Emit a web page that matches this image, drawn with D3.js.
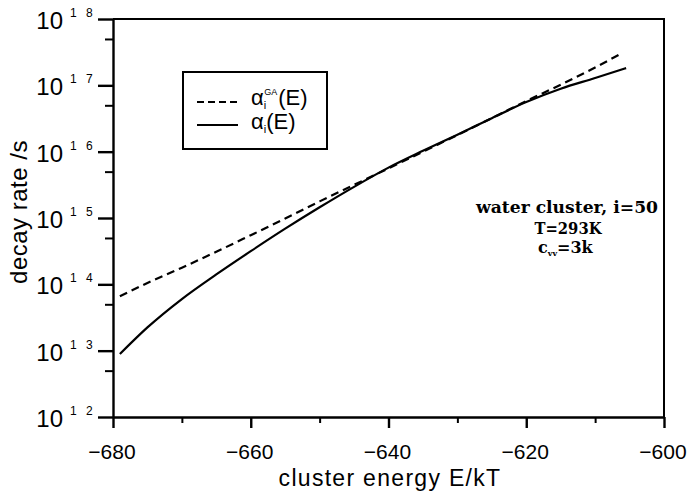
<!DOCTYPE html>
<html lang="en">
<head>
<meta charset="UTF-8">
<title>decay rate vs cluster energy</title>
<style>
  body { margin: 0; padding: 0; background: #fff; overflow: hidden; }
  svg { display: block; }
  text { fill: #000; }
</style>
</head>
<body>
<svg id="chart" width="688" height="493"></svg>
<script src="https://d3js.org/d3.v7.min.js"></script>
<script>
// cluster energy E/kT
const energyGA = [-679, -675, -670, -665, -660, -655, -650, -645, -640, -635, -630, -625, -620, -615, -610, -606];
// alpha_i^GA(E), decay rate /s (dashed)
const rateGA = [6.6e13, 1.05e14, 1.78e14, 3.1e14, 5.5e14, 9.8e14, 1.78e15, 3.16e15, 5.6e15, 1.0e16, 1.78e16, 3.2e16, 5.8e16, 1.02e17, 1.86e17, 3.1e17];

const energyExact = [-679, -675, -670, -665, -660, -655, -650, -645, -640, -635, -630, -625, -620, -615, -610, -605.5];
// alpha_i(E), decay rate /s (solid)
const rateExact = [8.9e12, 2.24e13, 6.0e13, 1.41e14, 3.16e14, 6.9e14, 1.45e15, 2.95e15, 5.75e15, 1.03e16, 1.8e16, 3.2e16, 5.6e16, 8.9e16, 1.29e17, 1.82e17];

const xTicks = [-680, -660, -640, -620, -600];
const xMinorTicks = [-670, -650, -630, -610];
const yExponents = [12, 13, 14, 15, 16, 17, 18];

const annotation = ["water cluster, i=50", "T=293K"];

// plot frame in page pixels
const plotLeft = 113, plotRight = 664, plotTop = 19, plotBottom = 417;

const svg = d3.select("#chart");

const x = d3.scaleLinear().domain([-680, -600]).range([plotLeft, plotRight]);
const y = d3.scaleLog().domain([1e12, 1e18]).range([plotBottom, plotTop]);

const sans = "'Liberation Sans', Arial, sans-serif";

const yMajor = yExponents.map(e => Math.pow(10, e));
const yMinor = yExponents.slice(0, -1).map(e => 5 * Math.pow(10, e));

// top/right frame
svg.append("path")
  .attr("d", `M${plotLeft},${plotTop}H${plotRight}V${plotBottom}`)
  .attr("fill", "none")
  .attr("stroke", "#000")
  .attr("stroke-width", 2);

// d3 axes for the ticks (labels drawn separately)
const yAxisMajor = svg.append("g")
  .attr("transform", `translate(${plotLeft},0)`)
  .call(d3.axisLeft(y).tickValues(yMajor).tickSize(15).tickSizeOuter(0).tickFormat(() => ""));
yAxisMajor.select(".domain").attr("stroke", "#000").attr("stroke-width", 2.4);
yAxisMajor.selectAll(".tick line").attr("stroke", "#000").attr("stroke-width", 2.4);

const yAxisMinor = svg.append("g")
  .attr("transform", `translate(${plotLeft},0)`)
  .call(d3.axisLeft(y).tickValues(yMinor).tickSize(8).tickFormat(() => ""));
yAxisMinor.select(".domain").remove();
yAxisMinor.selectAll(".tick line").attr("stroke", "#000").attr("stroke-width", 2);

const xAxisMajor = svg.append("g")
  .attr("transform", `translate(0,${plotBottom})`)
  .call(d3.axisBottom(x).tickValues(xTicks).tickSize(11).tickSizeOuter(0).tickFormat(() => ""));
xAxisMajor.select(".domain").attr("stroke", "#000").attr("stroke-width", 2.4);
xAxisMajor.selectAll(".tick line").attr("stroke", "#000").attr("stroke-width", 2.4);

const xAxisMinor = svg.append("g")
  .attr("transform", `translate(0,${plotBottom})`)
  .call(d3.axisBottom(x).tickValues(xMinorTicks).tickSize(6).tickFormat(() => ""));
xAxisMinor.select(".domain").remove();
xAxisMinor.selectAll(".tick line").attr("stroke", "#000").attr("stroke-width", 2);

// y tick labels "10" with spaced exponent
yExponents.forEach(e => {
  const ty = y(Math.pow(10, e));
  svg.append("text")
    .attr("x", 63).attr("y", ty + 10)
    .attr("text-anchor", "end")
    .attr("font-family", sans).attr("font-size", 24)
    .text("10");
  svg.append("text")
    .attr("x", 70).attr("y", ty - 2)
    .attr("font-family", sans).attr("font-size", 12)
    .attr("letter-spacing", 3)
    .text(String(e).split("").join(" "));
});

svg.append("g").selectAll("text")
  .data(xTicks)
  .join("text")
  .attr("x", d => x(d) - 1)
  .attr("y", 459)
  .attr("text-anchor", "middle")
  .attr("font-family", sans).attr("font-size", 21)
  .text(d => "\u2212" + Math.abs(d));

// axis titles
svg.append("text")
  .attr("x", 390).attr("y", 486)
  .attr("text-anchor", "middle")
  .attr("font-family", sans).attr("font-size", 23)
  .attr("letter-spacing", 1.3)
  .text("cluster energy E/kT");

svg.append("text")
  .attr("transform", "translate(27,212) rotate(-90)")
  .attr("text-anchor", "middle")
  .attr("font-family", sans).attr("font-size", 24)
  .attr("letter-spacing", 0.5)
  .text("decay rate /s");

// curves
const line = d3.line()
  .x(d => x(d[0]))
  .y(d => y(d[1]))
  .curve(d3.curveMonotoneX);

svg.append("path")
  .datum(d3.zip(energyGA, rateGA))
  .attr("d", line)
  .attr("fill", "none")
  .attr("stroke", "#000")
  .attr("stroke-width", 2.2)
  .attr("stroke-dasharray", "8,5");

svg.append("path")
  .datum(d3.zip(energyExact, rateExact))
  .attr("d", line)
  .attr("fill", "none")
  .attr("stroke", "#000")
  .attr("stroke-width", 2.2);

// legend
const legend = svg.append("g");
legend.append("rect")
  .attr("x", 183).attr("y", 72)
  .attr("width", 144).attr("height", 77)
  .attr("fill", "#fff").attr("stroke", "#000").attr("stroke-width", 2);

legend.append("line")
  .attr("x1", 197).attr("x2", 238).attr("y1", 102).attr("y2", 102)
  .attr("stroke", "#000").attr("stroke-width", 2.2).attr("stroke-dasharray", "7,4");
legend.append("line")
  .attr("x1", 197).attr("x2", 238).attr("y1", 125).attr("y2", 125)
  .attr("stroke", "#000").attr("stroke-width", 2.2);

const l1 = legend.append("text")
  .attr("x", 251).attr("y", 105)
  .attr("font-family", sans).attr("font-size", 22);
l1.append("tspan").text("\u03b1");
l1.append("tspan").attr("font-size", 11).attr("dy", 4).text("i");
l1.append("tspan").attr("font-size", 9).attr("dx", -2).attr("dy", -14).text("GA");
l1.append("tspan").attr("font-size", 22).attr("dx", 1).attr("dy", 10).text("(E)");

const l2 = legend.append("text")
  .attr("x", 251).attr("y", 129)
  .attr("font-family", sans).attr("font-size", 22);
l2.append("tspan").text("\u03b1");
l2.append("tspan").attr("font-size", 11).attr("dy", 4).text("i");
l2.append("tspan").attr("font-size", 22).attr("dy", -4).text("(E)");

// annotation
const serif = "'DejaVu Serif', 'Liberation Serif', serif";
svg.append("text")
  .attr("x", 567).attr("y", 213)
  .attr("text-anchor", "middle")
  .attr("font-family", serif).attr("font-size", 16).attr("font-weight", "bold")
  .attr("textLength", 182).attr("lengthAdjust", "spacingAndGlyphs")
  .text(annotation[0]);
svg.append("text")
  .attr("x", 568).attr("y", 234)
  .attr("text-anchor", "middle")
  .attr("font-family", serif).attr("font-size", 16).attr("font-weight", "bold")
  .attr("textLength", 67).attr("lengthAdjust", "spacingAndGlyphs")
  .text(annotation[1]);
const cv = svg.append("text")
  .attr("x", 538).attr("y", 253)
  .attr("font-family", serif).attr("font-size", 16).attr("font-weight", "bold");
cv.append("tspan").text("c");
cv.append("tspan").attr("font-size", 8).attr("dy", 3).text("vv");
cv.append("tspan").attr("dy", -3).text("=3k");
</script>
</body>
</html>
